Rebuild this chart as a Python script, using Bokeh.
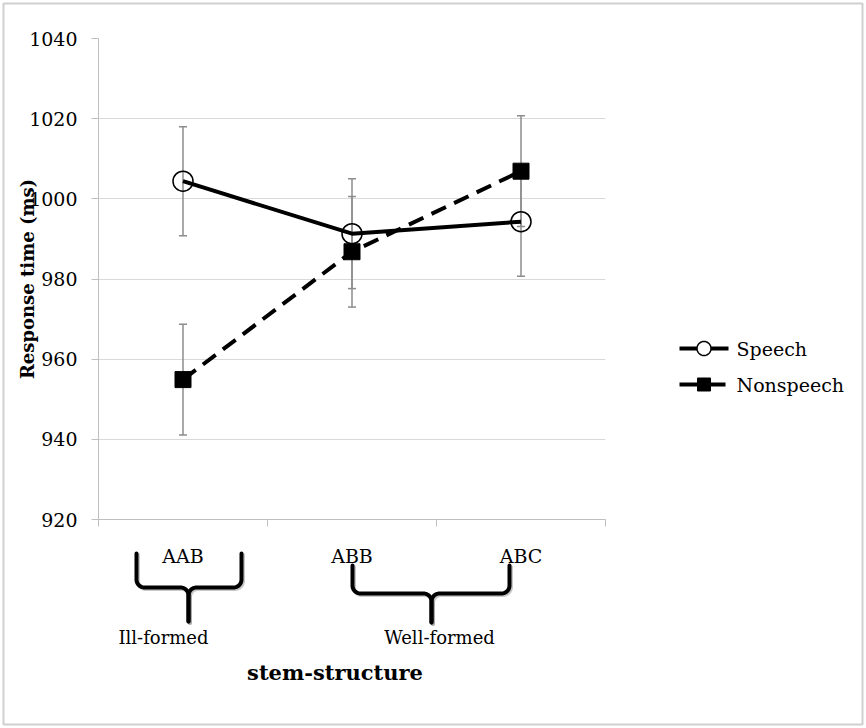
import math
from bokeh.plotting import figure
from bokeh.models import Range1d, FixedTicker, ColumnDataSource, Whisker, TeeHead
from bokeh.core.properties import value
from bokeh.embed import file_html
from bokeh.resources import INLINE

# ---------------- data ----------------
categories = ["AAB", "ABB", "ABC"]
speech = [1004.4, 991.3, 994.3]
speech_err = [13.6, 13.7, 13.6]
nonspeech = [954.9, 986.8, 1006.9]
nonspeech_err = [13.8, 13.8, 13.8]
series_names = ["Speech", "Nonspeech"]
y_ticks = [920, 940, 960, 980, 1000, 1020, 1040]
group_labels = ["Ill-formed", "Well-formed"]
x_title = "stem-structure"
y_title = "Response time (ms)"

xs = [i + 1 for i in range(len(categories))]

FONT = "DejaVu Serif"
GRAY_AX = "#bfbfbf"
GRID = "#d9d9d9"
ERR = "#8c8c8c"

# ---------------- layout (pixels) ----------------
W, H = 864, 726
FL, FR, FT, FB = 98, 605, 38, 519
X0, X1 = 0.5, len(categories) + 0.5
Y0, Y1 = 920, 1040

def dx(px):
    return X0 + (px - FL) / (FR - FL) * (X1 - X0)

def dy(py):
    return Y1 - (py - FT) / (FB - FT) * (Y1 - Y0)

p = figure(width=W, height=H, output_backend="svg", toolbar_location=None,
           x_range=Range1d(X0, X1), y_range=Range1d(Y0, Y1),
           title=None, min_border_left=FL, min_border_right=W - FR,
           min_border_top=FT, min_border_bottom=H - FB)
p.outline_line_color = None
p.background_fill_color = "white"
p.border_fill_color = "white"

# y axis
p.yaxis.ticker = FixedTicker(ticks=y_ticks)
p.yaxis.axis_line_color = GRAY_AX
p.yaxis.major_tick_line_color = GRAY_AX
p.yaxis.major_tick_out = 7
p.yaxis.major_tick_in = 0
p.yaxis.minor_tick_line_color = None
p.yaxis.major_label_text_font = FONT
p.yaxis.major_label_text_font_size = "19px"
p.yaxis.major_label_text_color = "black"
p.yaxis.major_label_standoff = 14
p.yaxis.axis_label = y_title
p.yaxis.axis_label_text_font = FONT
p.yaxis.axis_label_text_font_style = "bold"
p.yaxis.axis_label_text_font_size = "18px"
p.yaxis.axis_label_text_color = "black"
p.yaxis.axis_label_standoff = -12

# x axis
p.xaxis.ticker = FixedTicker(ticks=xs, minor_ticks=[x - 0.5 for x in xs] + [xs[-1] + 0.5])
p.xaxis.major_label_overrides = {x: c for x, c in zip(xs, categories)}
p.xaxis.axis_line_color = GRAY_AX
p.xaxis.major_tick_line_color = None
p.xaxis.major_tick_out = 7
p.xaxis.minor_tick_line_color = GRAY_AX
p.xaxis.minor_tick_out = 7
p.xaxis.minor_tick_in = 0
p.xaxis.major_label_text_font = FONT
p.xaxis.major_label_text_font_size = "19px"
p.xaxis.major_label_text_color = "black"
p.xaxis.major_label_standoff = 18

p.xgrid.visible = False
p.ygrid.ticker = FixedTicker(ticks=y_ticks)
p.ygrid.grid_line_color = GRID
p.ygrid.grid_line_width = 1

# error bars
src_s = ColumnDataSource(dict(x=xs, y=speech,
                              lo=[v - e for v, e in zip(speech, speech_err)],
                              hi=[v + e for v, e in zip(speech, speech_err)]))
src_n = ColumnDataSource(dict(x=xs, y=nonspeech,
                              lo=[v - e for v, e in zip(nonspeech, nonspeech_err)],
                              hi=[v + e for v, e in zip(nonspeech, nonspeech_err)]))
for src in (src_n, src_s):
    w = Whisker(source=src, base="x", upper="hi", lower="lo", dimension="height",
                line_color=ERR, line_width=1.5,
                upper_head=TeeHead(size=8, line_color=ERR, line_width=1.5),
                lower_head=TeeHead(size=8, line_color=ERR, line_width=1.5))
    p.add_layout(w)

# series
p.line("x", "y", source=src_n, line_color="black", line_width=4, line_dash="16 9")
p.scatter("x", "y", source=src_n, marker="square", size=16,
          fill_color="black", line_color="black")
p.line("x", "y", source=src_s, line_color="black", line_width=4)
p.scatter("x", "y", source=src_s, marker="circle", size=20,
          fill_color=None, line_color="black", line_width=1.5)

# legend (drawn unclipped, to the right of the plot area)
LEG_X0, LEG_X1, LEG_TX = 679, 728, 736
leg_rows = [348, 384]
LEG_CX = (LEG_X0 + LEG_X1) / 2
p.line(x=[dx(LEG_X0), dx(LEG_X1)], y=[dy(leg_rows[0])] * 2, line_color="black",
       line_width=4, level="overlay")
p.line(x=[dx(LEG_X0), dx(LEG_X1)], y=[dy(leg_rows[1])] * 2, line_color="black",
       line_width=4, line_dash="18 10", level="overlay")
# legend circle marker (outline polygon)
R = 7
circ_x = [dx(LEG_CX + R * math.cos(2 * math.pi * k / 40)) for k in range(40)]
circ_y = [dy(leg_rows[0] + R * math.sin(2 * math.pi * k / 40)) for k in range(40)]
p.patch(circ_x, circ_y, fill_color="white", line_color="black", line_width=1.5,
        level="overlay")
# legend square marker
S = 6.5
sq_x = [dx(LEG_CX - S), dx(LEG_CX + S), dx(LEG_CX + S), dx(LEG_CX - S)]
sq_y = [dy(leg_rows[1] - S), dy(leg_rows[1] - S), dy(leg_rows[1] + S), dy(leg_rows[1] + S)]
p.patch(sq_x, sq_y, fill_color="black", line_color="black", line_width=1,
        level="overlay")
p.text(x=[dx(LEG_TX)] * 2, y=[dy(r) for r in leg_rows], text=series_names,
       text_font=value(FONT), text_font_size="19px", text_align="left",
       text_baseline="middle", text_color="black", level="overlay")

# braces below the axis (drawn unclipped)
def brace(x0, x1, xc, ytop, ymid, ytip, rx, ry, n=10):
    left_x, left_y = [x0], [ytop]
    for k in range(n + 1):
        t = math.pi + (math.pi / 2) * k / n
        left_x.append(x0 + rx + rx * math.cos(t)); left_y.append(ymid + ry + ry * math.sin(t))
    for k in range(n + 1):
        t = math.pi / 2 - (math.pi / 2) * k / n
        left_x.append(xc - rx + rx * math.cos(t)); left_y.append(ymid - ry + ry * math.sin(t))
    left_x.append(xc); left_y.append(ytip)
    right_x, right_y = [x1], [ytop]
    for k in range(n + 1):
        t = 2 * math.pi - (math.pi / 2) * k / n
        right_x.append(x1 - rx + rx * math.cos(t)); right_y.append(ymid + ry + ry * math.sin(t))
    for k in range(n + 1):
        t = math.pi / 2 + (math.pi / 2) * k / n
        right_x.append(xc + rx + rx * math.cos(t)); right_y.append(ymid - ry + ry * math.sin(t))
    right_x.append(xc); right_y.append(ytip)
    return [left_x, right_x], [left_y, right_y]

rx = dx(FL + 8) - dx(FL)
ry = dy(FT) - dy(FT + 8)
brace_px = [(136, 241, 188, 553, 587, 621),
            (352, 509, 431, 565, 593, 622)]
for (a, b, c, t, m, tip) in brace_px:
    bx, by = brace(dx(a), dx(b), dx(c), dy(t), dy(m), dy(tip), rx, ry)
    sx = [[v + (dx(FL + 1.5) - dx(FL)) for v in arr] for arr in bx]
    sy = [[v - (dy(FT) - dy(FT + 1.5)) for v in arr] for arr in by]
    p.multi_line(sx, sy, line_color="#888888", line_alpha=0.45, line_width=4,
                 line_join="round", line_cap="round", level="overlay")
    p.multi_line(bx, by, line_color="black", line_width=4, line_join="round",
                 line_cap="round", level="overlay")

# group labels and x title as unclipped text glyphs
group_px = [(163, 637), (439, 637)]
p.text(x=[dx(a) for a, _ in group_px], y=[dy(b) for _, b in group_px], text=group_labels,
       text_font=value(FONT), text_font_size="18px", text_align="center",
       text_baseline="alphabetic", text_color="black", level="overlay")
p.text(x=[dx(334.5)], y=[dy(672)], text=[x_title], text_font=value(FONT),
       text_font_style="bold", text_font_size="21px", text_align="center",
       text_baseline="alphabetic", text_color="black", level="overlay")

# outer frame
p.quad(left=[dx(3)], right=[dx(862)], top=[dy(3)], bottom=[dy(724)],
       fill_color=None, line_color="#d0d0d0", line_width=2, level="overlay")

open("out.html", "w").write(file_html(p, INLINE))
